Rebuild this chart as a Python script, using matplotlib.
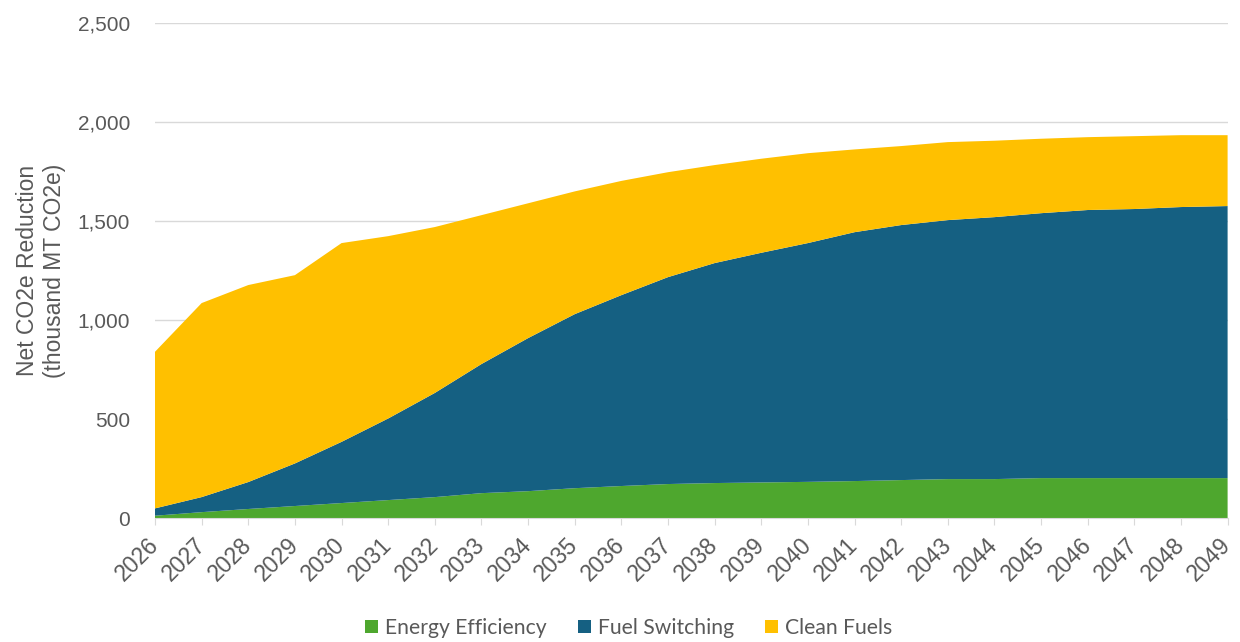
import matplotlib
matplotlib.use("Agg")
import matplotlib.pyplot as plt
from matplotlib.ticker import FuncFormatter
from matplotlib.patches import Patch

years = list(range(2026, 2050))
energy_efficiency = [12, 30, 46, 61, 76, 91, 106, 126, 136, 151, 162, 172, 177, 180, 183, 187, 192, 197, 197, 202, 202, 202, 202, 202]
fuel_switching = [37, 76, 136, 215, 309, 412, 526, 652, 773, 879, 964, 1045, 1111, 1160, 1206, 1257, 1288, 1308, 1323, 1338, 1354, 1359, 1369, 1374]
clean_fuels = [791, 980, 995, 951, 1004, 921, 838, 752, 681, 620, 577, 530, 495, 475, 454, 418, 399, 394, 386, 376, 368, 368, 363, 358]
series_names = ["Energy Efficiency", "Fuel Switching", "Clean Fuels"]
colors = ["#4EA72E", "#156082", "#FFC000"]
y_ticks = [0, 500, 1000, 1500, 2000, 2500]

plt.rcParams['font.family'] = ['Liberation Sans', 'DejaVu Sans']

fig = plt.figure(figsize=(12.4, 6.42), dpi=100)
ax = fig.add_axes([0.125, 0.193, 0.865, 0.771])

ax.stackplot(years, energy_efficiency, fuel_switching, clean_fuels,
             colors=colors, linewidth=0, zorder=2)

ax.set_xlim(years[0], years[-1])
ax.set_ylim(0, 2500)
ax.set_yticks(y_ticks)
ax.yaxis.set_major_formatter(FuncFormatter(lambda v, p: f"{int(v):,}"))
ax.grid(axis='y', color='#D9D9D9', linewidth=1, zorder=0)
ax.set_axisbelow(True)

ax.set_xticks(years)
ax.set_xticklabels([str(y) for y in years], rotation=45, ha='right', va='center',
                   rotation_mode='anchor', fontsize=16.5, color='#595959')
ax.tick_params(axis='x', length=5, color='#D9D9D9', pad=12)
ax.tick_params(axis='y', length=0, pad=18, labelsize=15, labelcolor='#595959')

for s in ['top', 'right', 'left']:
    ax.spines[s].set_visible(False)
ax.spines['bottom'].set_color('#D9D9D9')

ax.set_ylabel("Net CO2e Reduction\n(thousand MT CO2e)", fontsize=16.5,
              color='#595959', labelpad=8, linespacing=1.25)

handles = [Patch(facecolor=c, edgecolor='none') for c in colors]
fig.legend(handles, series_names, loc='center', bbox_to_anchor=(0.507, 0.022),
           ncol=3, frameon=False, handlelength=0.62, handleheight=0.62,
           handletextpad=0.3, columnspacing=1.5, labelcolor='#595959',
           prop={'family': ['Lato', 'DejaVu Sans'], 'size': 15.2})

fig.savefig("out.png", dpi=100)
